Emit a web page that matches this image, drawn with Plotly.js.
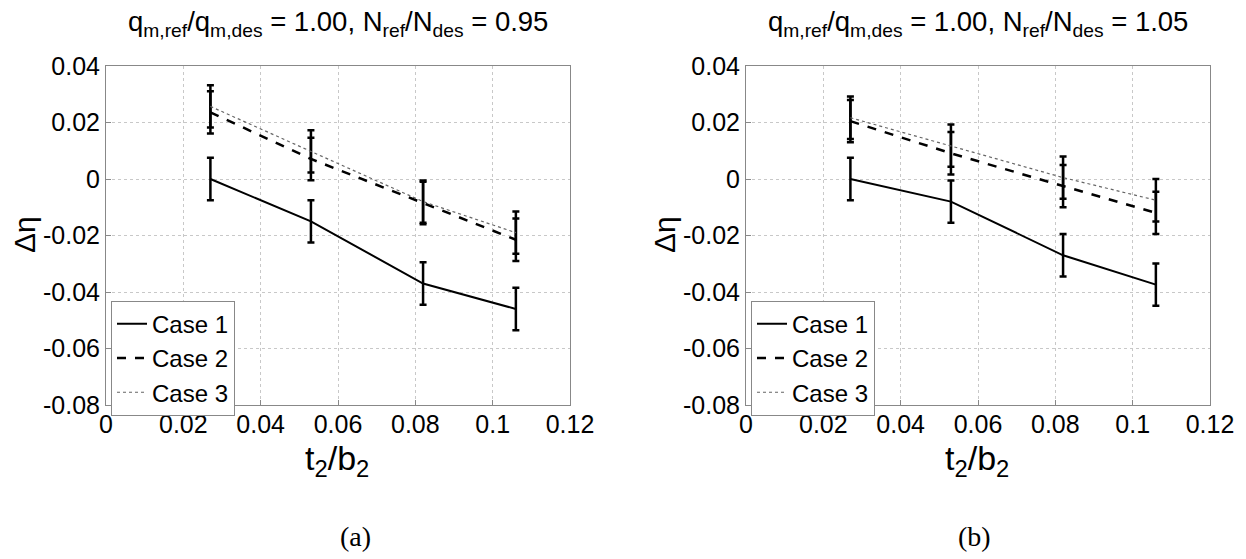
<!DOCTYPE html>
<html>
<head>
<meta charset="utf-8">
<script src="https://cdn.plot.ly/plotly-3.0.1.min.js"></script>
<style>html,body{margin:0;padding:0;background:#fff;}#chart{width:1246px;height:559px;}</style>
</head>
<body>
<div id="chart"></div>
<script>
// ---- data ----
const xVals = [0.027, 0.053, 0.082, 0.106];
const caseNames = ["Case 1", "Case 2", "Case 3"];

const case1A = [0, -0.015, -0.037, -0.046];
const case2A = [0.0236, 0.0071, -0.0085, -0.0215];
const case3A = [0.0257, 0.0098, -0.0080, -0.0190];

const case1B = [0, -0.008, -0.027, -0.0374];
const case2B = [0.0205, 0.0091, -0.0025, -0.012];
const case3B = [0.0217, 0.0118, 0.0005, -0.0075];

const errBar = [0.0075, 0.0075, 0.0075, 0.0075];

const xTickVals = [0, 0.02, 0.04, 0.06, 0.08, 0.1, 0.12];
const xTickText = ["0", "0.02", "0.04", "0.06", "0.08", "0.1", "0.12"];
const yTickVals = [0.04, 0.02, 0, -0.02, -0.04, -0.06, -0.08];
const yTickText = ["0.04", "0.02", "0", "-0.02", "-0.04", "-0.06", "-0.08"];

const titleA = "q<sub>m,ref</sub>/q<sub>m,des</sub> = 1.00, N<sub>ref</sub>/N<sub>des</sub> = 0.95";
const titleB = "q<sub>m,ref</sub>/q<sub>m,des</sub> = 1.00, N<sub>ref</sub>/N<sub>des</sub> = 1.05";
const xTitle = "t<sub>2</sub>/b<sub>2</sub>";
const yTitle = "Δη";
const panelLabels = ["(a)", "(b)"];

// ---- styles ----
const FONT = "Liberation Sans, Arial, sans-serif";
const SERIF = "Liberation Serif, Times New Roman, serif";
const lineStyles = [
  {color: "#000", width: 2, dash: "solid"},
  {color: "#000", width: 2.5, dash: "dash"},
  {color: "#666", width: 1.2, dash: "dot"}
];
function mk(y, i, xa, ya, leg) {
  return {
    x: xVals, y: y, type: "scatter", mode: "lines", name: caseNames[i],
    xaxis: xa, yaxis: ya, legend: leg,
    line: lineStyles[i],
    error_y: {type: "data", array: errBar, visible: true, color: "#000", thickness: 2.5, width: 3.5}
  };
}
const traces = [
  mk(case1A, 0, "x", "y", "legend"),
  mk(case2A, 1, "x", "y", "legend"),
  mk(case3A, 2, "x", "y", "legend"),
  mk(case1B, 0, "x2", "y2", "legend2"),
  mk(case2B, 1, "x2", "y2", "legend2"),
  mk(case3B, 2, "x2", "y2", "legend2")
];

function xax(dom, anchor) {
  return {
    domain: dom, anchor: anchor, range: [0, 0.12],
    tickmode: "array", tickvals: xTickVals, ticktext: xTickText,
    showline: true, mirror: true, linecolor: "#888", linewidth: 1,
    ticks: "inside", ticklen: 5, tickcolor: "#888", ticklabelstandoff: -3,
    showgrid: true, gridcolor: "#c8c8c8", griddash: "dot", gridwidth: 1,
    zeroline: false, tickfont: {family: FONT, size: 25, color: "#000"}
  };
}
function yax(anchor) {
  return {
    domain: [0.2755, 0.8819], anchor: anchor, range: [-0.08, 0.04],
    tickmode: "array", tickvals: yTickVals, ticktext: yTickText,
    showline: true, mirror: true, linecolor: "#888", linewidth: 1,
    ticks: "inside", ticklen: 5, tickcolor: "#888",
    showgrid: true, gridcolor: "#c8c8c8", griddash: "dot", gridwidth: 1,
    zeroline: false, tickfont: {family: FONT, size: 25, color: "#000"}
  };
}
function leg(xp) {
  return {
    x: xp, y: 0.462, xanchor: "left", yanchor: "top", xref: "paper", yref: "paper",
    bgcolor: "#fff", bordercolor: "#888", borderwidth: 1,
    font: {family: FONT, size: 24, color: "#000"}, tracegroupgap: 0
  };
}
const ann = [];
function txt(t, x, y, size, fam, rot) {
  ann.push({text: t, x: x, y: y, xref: "paper", yref: "paper", showarrow: false,
    xanchor: "center", yanchor: "middle", textangle: rot || 0,
    font: {family: fam || FONT, size: size, color: "#000"}});
}
txt(titleA, 338 / 1246, 1 - 24 / 559, 27.5);
txt(titleB, 978 / 1246, 1 - 24 / 559, 27.5);
txt(xTitle, 337 / 1246, 1 - 460 / 559, 34);
txt(xTitle, 977 / 1246, 1 - 460 / 559, 34);
txt(yTitle, 24 / 1246, 1 - 235 / 559, 30, FONT, -90);
txt(yTitle, 664 / 1246, 1 - 235 / 559, 30, FONT, -90);
txt(panelLabels[0], 355 / 1246, 1 - 536 / 559, 28, SERIF);
txt(panelLabels[1], 974 / 1246, 1 - 536 / 559, 28, SERIF);

const layout = {
  width: 1246, height: 559,
  margin: {l: 0, r: 0, t: 0, b: 0},
  paper_bgcolor: "#fff", plot_bgcolor: "#fff",
  showlegend: true,
  xaxis: xax([106 / 1246, 570 / 1246], "y"),
  yaxis: yax("x"),
  xaxis2: xax([746 / 1246, 1210 / 1246], "y2"),
  yaxis2: yax("x2"),
  legend: leg(111 / 1246),
  legend2: leg(751 / 1246),
  annotations: ann
};
Plotly.newPlot("chart", traces, layout, {staticPlot: true});
</script>
</body>
</html>
